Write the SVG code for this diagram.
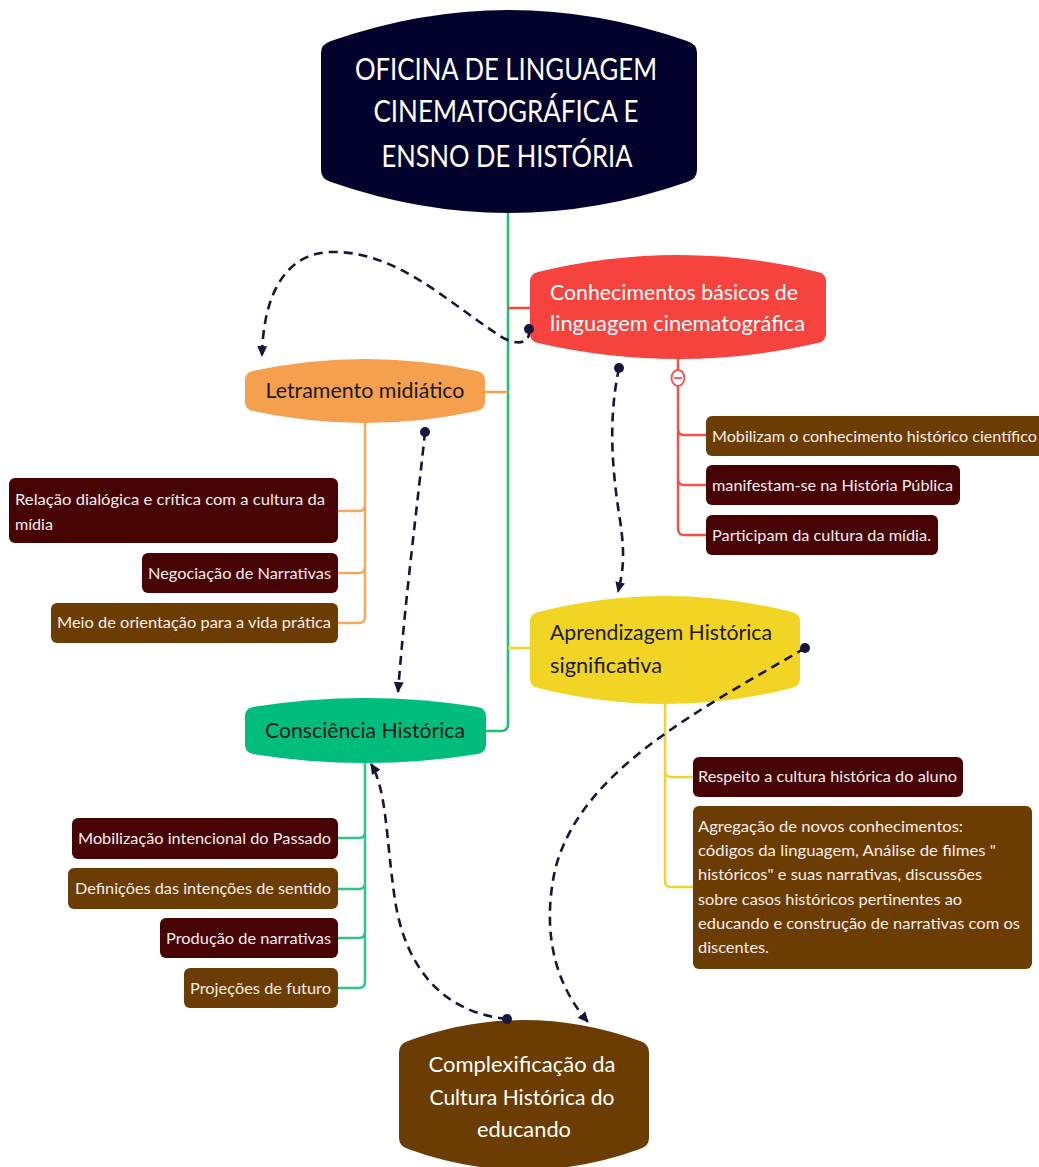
<svg xmlns="http://www.w3.org/2000/svg" width="1039" height="1167" viewBox="0 0 1039 1167">
<style>
text{font-family:Lato,"Liberation Sans","DejaVu Sans",sans-serif}
.title{fill:#ffffff;font-size:30px;text-anchor:middle}
.lbl{font-size:21px;fill:#1a1a1a}
.lblw{font-size:21px;fill:#ffffff}
.ct{font-size:15px;fill:#f8ecec}
.maroon{fill:#470303}
.brown{fill:#6c3d02}
.dash{fill:none;stroke:#16163c;stroke-width:2.6;stroke-dasharray:9 6;marker-start:url(#dot);marker-end:url(#arr)}
.br{fill:none;stroke-width:2.5;stroke-linejoin:round}
</style>
<defs>
<marker id="arr" viewBox="0 0 10 10" refX="9" refY="5" markerWidth="11" markerHeight="11" markerUnits="userSpaceOnUse" orient="auto"><path d="M0,0.5 L10,5 L0,9.5 Z" fill="#16163c"/></marker>
<marker id="dot" viewBox="0 0 10 10" refX="5" refY="5" markerWidth="10" markerHeight="10" markerUnits="userSpaceOnUse"><circle cx="5" cy="5" r="5" fill="#16163c"/></marker>
</defs>
<rect width="1039" height="1167" fill="#ffffff"/>

<g id="main">
<path fill="#03022d" d="M321,53 Q321,44 331,41 Q509,-21 687,41 Q697,44 697,53 L697,170 Q697,179 687,182 Q509,244 331,182 Q321,179 321,170 Z"/>
<text class="title" x="506" y="80" textLength="302" lengthAdjust="spacingAndGlyphs">OFICINA DE LINGUAGEM</text>
<text class="title" x="506" y="122" textLength="265" lengthAdjust="spacingAndGlyphs">CINEMATOGRÁFICA E</text>
<text class="title" x="507" y="167" textLength="251" lengthAdjust="spacingAndGlyphs">ENSNO DE HISTÓRIA</text>
</g>

<g id="conhecimentos">
<path fill="#f6433e" d="M530,281 Q530,274 538,272 Q678,238 818,272 Q826,274 826,281 L826,334 Q826,341 818,343 Q678,375 538,343 Q530,341 530,334 Z"/>
<text class="lblw" x="550" y="300" textLength="248" lengthAdjust="spacingAndGlyphs">Conhecimentos básicos de</text>
<text class="lblw" x="550" y="331" textLength="255" lengthAdjust="spacingAndGlyphs">linguagem cinematográfica</text>
</g>

<g id="letramento">
<path fill="#f5a04e" d="M245,380 Q245,373 253,371 Q365,347 477,371 Q485,373 485,380 L485,402 Q485,409 477,411 Q365,435 253,411 Q245,409 245,402 Z"/>
<text class="lbl" x="365" y="398" text-anchor="middle" textLength="199" lengthAdjust="spacingAndGlyphs">Letramento midiático</text>
</g>

<g id="aprendizagem">
<path fill="#f2d425" d="M530,621 Q530,614 538,612 Q665,580 792,612 Q800,614 800,621 L800,679 Q800,686 792,688 Q665,720 538,688 Q530,686 530,679 Z"/>
<text class="lbl" x="550" y="640" textLength="222" lengthAdjust="spacingAndGlyphs">Aprendizagem Histórica</text>
<text class="lbl" x="550" y="673" textLength="112" lengthAdjust="spacingAndGlyphs">significativa</text>
</g>

<g id="consciencia">
<path fill="#00bd7e" d="M245,716 Q245,709 253,707 Q365,689 478,707 Q486,709 486,716 L486,745 Q486,752 478,754 Q365,772 253,754 Q245,752 245,745 Z"/>
<text class="lbl" x="365" y="738" text-anchor="middle" textLength="200" lengthAdjust="spacingAndGlyphs">Consciência Histórica</text>
</g>

<g id="complexificacao">
<path fill="#6c3d02" d="M399,1052 Q399,1044 408,1041 Q524,999 640,1041 Q649,1044 649,1052 L649,1138 Q649,1146 640,1149 Q524,1191 408,1149 Q399,1146 399,1138 Z"/>
<text class="lblw" x="522" y="1072" font-size="22" text-anchor="middle" textLength="187" lengthAdjust="spacingAndGlyphs">Complexificação da</text>
<text class="lblw" x="522" y="1105" font-size="22" text-anchor="middle" textLength="185" lengthAdjust="spacingAndGlyphs">Cultura Histórica do</text>
<text class="lblw" x="524" y="1137" font-size="22" text-anchor="middle" textLength="94" lengthAdjust="spacingAndGlyphs">educando</text>
</g>

<g id="relacao"><rect class="maroon" x="9" y="478" width="329" height="65" rx="6"/>
<text class="ct" x="15" y="505" textLength="310" lengthAdjust="spacingAndGlyphs">Relação dialógica e crítica com a cultura da</text>
<text class="ct" x="15" y="530" textLength="38" lengthAdjust="spacingAndGlyphs">mídia</text></g>
<g id="negociacao"><rect class="maroon" x="142" y="553" width="196" height="40" rx="6"/>
<text class="ct" x="148" y="579" textLength="183" lengthAdjust="spacingAndGlyphs">Negociação de Narrativas</text></g>
<g id="meio"><rect class="brown" x="51" y="603" width="287" height="40" rx="6"/>
<text class="ct" x="57" y="628" textLength="274" lengthAdjust="spacingAndGlyphs">Meio de orientação para a vida prática</text></g>

<g id="mobilizam"><rect class="brown" x="706" y="416" width="340" height="40" rx="6"/>
<text class="ct" x="712" y="442" textLength="325" lengthAdjust="spacingAndGlyphs">Mobilizam o conhecimento histórico científico</text></g>
<g id="manifestam"><rect class="maroon" x="706" y="465" width="254" height="40" rx="6"/>
<text class="ct" x="712" y="491" textLength="241" lengthAdjust="spacingAndGlyphs">manifestam-se na História Pública</text></g>
<g id="participam"><rect class="maroon" x="706" y="515" width="232" height="40" rx="6"/>
<text class="ct" x="712" y="541" textLength="219" lengthAdjust="spacingAndGlyphs">Participam da cultura da mídia.</text></g>

<g id="respeito"><rect class="maroon" x="693" y="757" width="270" height="40" rx="6"/>
<text class="ct" x="698" y="782" textLength="259" lengthAdjust="spacingAndGlyphs">Respeito a cultura histórica do aluno</text></g>
<g id="agregacao"><rect class="brown" x="693" y="806" width="339" height="163" rx="6"/>
<text class="ct" x="698" y="832" textLength="265" lengthAdjust="spacingAndGlyphs">Agregação de novos conhecimentos:</text>
<text class="ct" x="698" y="856" textLength="298" lengthAdjust="spacingAndGlyphs">códigos da linguagem, Análise de filmes "</text>
<text class="ct" x="698" y="880" textLength="284" lengthAdjust="spacingAndGlyphs">históricos" e suas narrativas, discussões</text>
<text class="ct" x="698" y="905" textLength="264" lengthAdjust="spacingAndGlyphs">sobre casos históricos pertinentes ao</text>
<text class="ct" x="698" y="929" textLength="322" lengthAdjust="spacingAndGlyphs">educando e construção de narrativas com os</text>
<text class="ct" x="698" y="953" textLength="71" lengthAdjust="spacingAndGlyphs">discentes.</text></g>

<g id="mobilizacao"><rect class="maroon" x="72" y="818" width="266" height="41" rx="6"/>
<text class="ct" x="78" y="844" textLength="253" lengthAdjust="spacingAndGlyphs">Mobilização intencional do Passado</text></g>
<g id="definicoes"><rect class="brown" x="68" y="868" width="270" height="41" rx="6"/>
<text class="ct" x="75" y="894" textLength="256" lengthAdjust="spacingAndGlyphs">Definições das intenções de sentido</text></g>
<g id="producao"><rect class="maroon" x="160" y="918" width="178" height="40" rx="6"/>
<text class="ct" x="166" y="944" textLength="165" lengthAdjust="spacingAndGlyphs">Produção de narrativas</text></g>
<g id="projecoes"><rect class="brown" x="184" y="968" width="154" height="40" rx="6"/>
<text class="ct" x="190" y="994" textLength="141" lengthAdjust="spacingAndGlyphs">Projeções de futuro</text></g>

<g id="connectors">
<path class="br" stroke="#1fbf6c" stroke-width="3" d="M508,213 V724 Q508,731 501,731 H486"/>
<path class="br" stroke="#f5433f" d="M508,308 H530"/>
<path class="br" stroke="#f5a04e" d="M485,392 H508"/>
<path class="br" stroke="#f2d22e" d="M508,648 H530"/>
<path class="br" stroke="#f6a85a" d="M365,423 V617 Q365,623 359,623 H338 M365,505 Q365,511 359,511 H338 M365,567 Q365,573 359,573 H338"/>
<path class="br" stroke="#f5504a" d="M678,359 V529 Q678,535 684,535 H706 M678,429 Q678,435 684,435 H706 M678,479 Q678,485 684,485 H706"/>
<path class="br" stroke="#f2d22e" d="M665,704 V881 Q665,887 671,887 H693 M665,771 Q665,777 671,777 H693"/>
<path class="br" stroke="#2cc488" d="M365,763 V982 Q365,988 359,988 H338 M365,832 Q365,838 359,838 H338 M365,883 Q365,889 359,889 H338 M365,932 Q365,938 359,938 H338"/>
<ellipse cx="678" cy="378" rx="6.5" ry="8" fill="#ffffff" stroke="#f5504a" stroke-width="1.8"/>
<path d="M674,378 H682" stroke="#f5504a" stroke-width="1.8"/>
<path class="dash" d="M529,329 C531,346 514,345 500,336 C445,300 395,250 330,252 C282,254 263,300 262,356"/>
<path class="dash" d="M425,432 C418,500 405,600 398,692"/>
<path class="dash" d="M619,368 C608,420 612,470 620,520 C626,560 622,575 618,592"/>
<path class="dash" d="M805,648 C700,710 580,770 555,870 C540,940 560,990 588,1022"/>
<path class="dash" d="M507,1019 C440,1012 405,965 395,900 C386,840 387,790 371,764"/>
</g>
</svg>
